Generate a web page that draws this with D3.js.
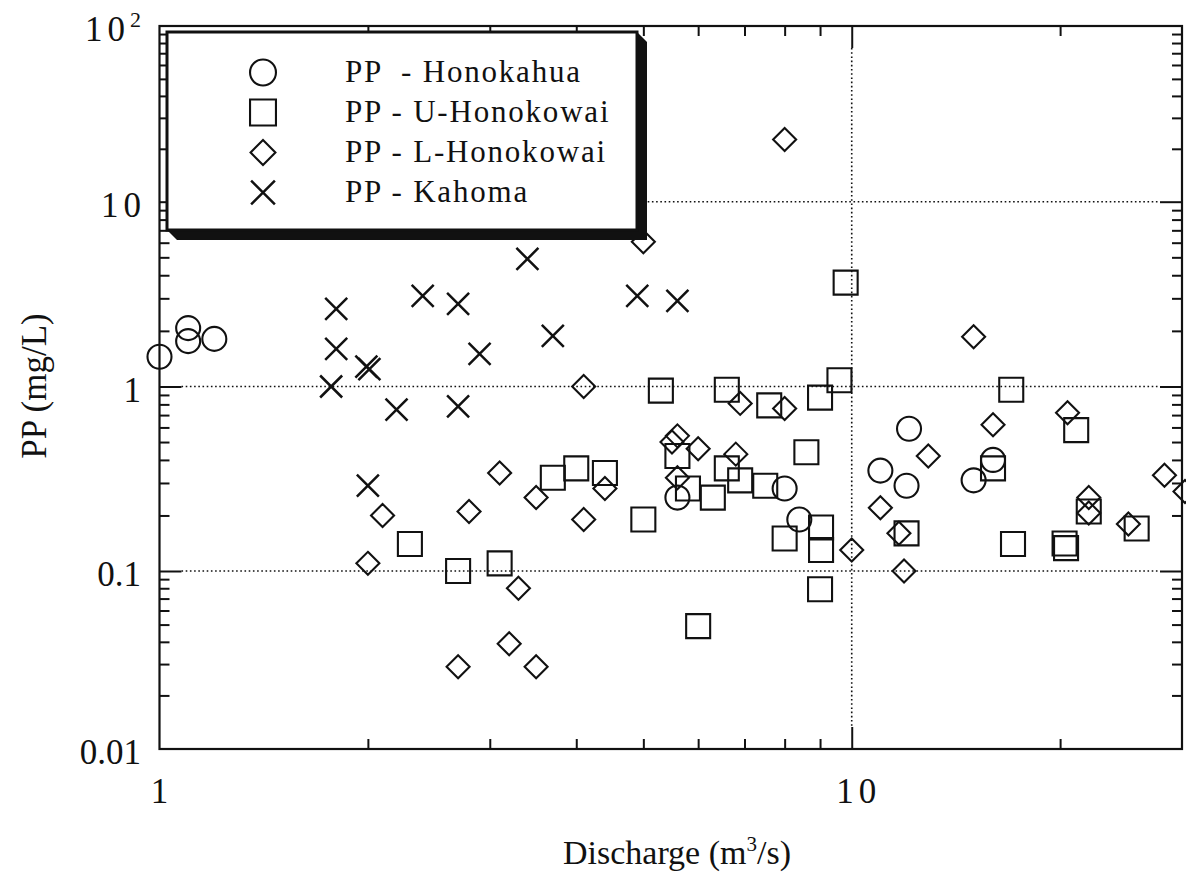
<!DOCTYPE html>
<html>
<head>
<meta charset="utf-8">
<script src="https://cdn.jsdelivr.net/npm/d3@7"></script>
<style>
  body { margin: 0; background: #fff; }
  svg text { font-family: "Liberation Serif", "Times New Roman", Times, serif; fill: #111; white-space: pre; }
</style>
</head>
<body>
<svg id="chart" width="1186" height="877"></svg>
<script>
// Particulate phosphorus (mg/L) against stream discharge (m3/s), one array per station: [discharge, PP]
const honokahua = [
  [1.0, 1.45], [1.10, 2.07], [1.10, 1.76], [1.20, 1.81], [5.6, 0.25], [8.0, 0.28],
  [8.4, 0.19], [11.0, 0.35], [12.0, 0.29], [12.1, 0.59], [15.0, 0.31], [16.0, 0.40]
];
const uHonokowai = [
  [2.3, 0.14], [2.7, 0.10], [3.1, 0.11], [3.7, 0.32], [4.0, 0.36], [4.4, 0.34],
  [5.0, 0.19], [5.3, 0.95], [5.6, 0.42], [5.8, 0.28], [6.0, 0.049], [6.3, 0.25],
  [6.6, 0.96], [6.6, 0.36], [6.9, 0.31], [7.5, 0.29], [7.6, 0.79], [8.0, 0.15],
  [8.6, 0.44], [9.0, 0.87], [9.03, 0.172], [9.03, 0.13], [9.0, 0.079], [9.6, 1.08],
  [9.8, 3.65], [12.0, 0.16], [16.0, 0.36], [17.0, 0.96], [17.1, 0.14], [20.3, 0.141],
  [20.4, 0.133], [21.1, 0.58], [22.0, 0.21], [25.8, 0.17]
];
const lHonokowai = [
  [2.1, 0.20], [2.0, 0.11], [2.8, 0.21], [3.1, 0.34], [3.5, 0.25], [3.3, 0.08],
  [3.2, 0.039], [2.7, 0.029], [3.5, 0.029], [5.0, 6.07], [4.1, 1.0], [4.1, 0.19],
  [4.4, 0.28], [6.9, 0.81], [8.0, 0.76], [5.6, 0.54], [5.5, 0.50], [6.0, 0.46],
  [6.8, 0.43], [5.6, 0.32], [10.0, 0.13], [8.0, 22.6], [15.0, 1.86], [16.0, 0.62],
  [12.9, 0.42], [20.5, 0.72], [11.0, 0.22], [11.7, 0.16], [11.9, 0.10], [28.3, 0.33],
  [30.3, 0.27], [22.0, 0.25], [22.0, 0.206], [25.1, 0.18]
];
const kahoma = [
  [3.4, 4.9], [1.8, 2.63], [2.4, 3.09], [2.7, 2.80], [1.8, 1.60], [1.99, 1.28],
  [2.01, 1.24], [2.9, 1.50], [1.77, 1.0], [2.2, 0.75], [2.7, 0.78], [2.0, 0.29],
  [4.9, 3.09], [5.6, 2.91], [3.7, 1.88]
];

const seriesNames = ["PP  - Honokahua", "PP - U-Honokowai", "PP - L-Honokowai", "PP - Kahoma"];
const seriesShapes = ["circle", "square", "diamond", "cross"];
const seriesData = [honokahua, uHonokowai, lHonokowai, kahoma];

// axis ticks
const xDomain = [1, 30];
const xMajor = [1, 10];
const xTickLabels = ["1", "10"];
const yDecades = [0.01, 0.1, 1, 10, 100];
const yTickLabels = ["0.01", "0.1", "1", "10", "10"];
const gridX = [10];
const gridY = [0.1, 1, 10];

// layout
const pLeft = 159.5, pRight = 1182, pTop = 26, pBottom = 749;
const yRange = [pBottom, 571, 386.5, 201.7, pTop];   // decade rows as printed on the original plot
const ink = "#111";

const svg = d3.select("#chart");
const x = d3.scaleLog().domain(xDomain).range([pLeft, pRight]);
const y = d3.scaleLog().domain(yDecades).range(yRange);

const minorX = [];
[1, 10].forEach(d => { for (let k = 2; k <= 9; k++) if (d * k < xDomain[1]) minorX.push(d * k); });
const minorY = [];
[0.01, 0.1, 1, 10].forEach(d => { for (let k = 2; k <= 9; k++) minorY.push(d * k); });
const majorYInner = [0.1, 1, 10];
const majorXInner = [10];

const minorLen = 10, majorLen = 22;

// dotted grid
const grid = svg.append("g").attr("stroke", ink).attr("stroke-width", 1.6).attr("stroke-dasharray", "1.6,2.6");
grid.selectAll("line.gy").data(gridY).join("line")
  .attr("x1", pLeft + majorLen).attr("x2", pRight - majorLen)
  .attr("y1", d => y(d)).attr("y2", d => y(d));
grid.selectAll("line.gx").data(gridX).join("line")
  .attr("y1", pTop + majorLen).attr("y2", pBottom - majorLen)
  .attr("x1", d => x(d)).attr("x2", d => x(d));

// inward ticks on all four sides
function tickGroup(axisFn, scale, values, size, transform) {
  const g = svg.append("g").attr("transform", transform)
    .call(axisFn(scale).tickValues(values).tickSize(-size).tickFormat(""));
  g.select(".domain").remove();
  g.selectAll("line").attr("stroke", ink).attr("stroke-width", 2);
}
tickGroup(d3.axisBottom, x, minorX, minorLen, `translate(0,${pBottom})`);
tickGroup(d3.axisBottom, x, majorXInner, majorLen, `translate(0,${pBottom})`);
tickGroup(d3.axisTop, x, minorX, minorLen, `translate(0,${pTop})`);
tickGroup(d3.axisTop, x, majorXInner, majorLen, `translate(0,${pTop})`);
tickGroup(d3.axisLeft, y, minorY, minorLen, `translate(${pLeft},0)`);
tickGroup(d3.axisLeft, y, majorYInner, majorLen, `translate(${pLeft},0)`);
tickGroup(d3.axisRight, y, minorY, minorLen, `translate(${pRight},0)`);
tickGroup(d3.axisRight, y, majorYInner, majorLen, `translate(${pRight},0)`);

// plot frame
svg.append("rect").attr("x", pLeft).attr("y", pTop)
  .attr("width", pRight - pLeft).attr("height", pBottom - pTop)
  .attr("fill", "none").attr("stroke", ink).attr("stroke-width", 2.2);

// marker shapes
function drawMarker(g, shape, cx, cy, k = 1) {
  const s = g.append("path").attr("fill", "none").attr("stroke", ink).attr("stroke-width", 2.1);
  if (shape === "circle") {
    const r = 12 * k, p = d3.path();
    p.moveTo(cx + r, cy); p.arc(cx, cy, r, 0, 2 * Math.PI);
    s.attr("d", p.toString());
  } else if (shape === "square") {
    const h = 12 * k;
    s.attr("d", `M${cx - h},${cy - h}H${cx + h}V${cy + h}H${cx - h}Z`);
  } else if (shape === "diamond") {
    const h = 11.5 * k;
    s.attr("d", `M${cx},${cy - h}L${cx + h},${cy}L${cx},${cy + h}L${cx - h},${cy}Z`);
  } else {
    const h = 11 * k;
    s.attr("d", `M${cx - h},${cy - h}L${cx + h},${cy + h}M${cx - h},${cy + h}L${cx + h},${cy - h}`)
      .attr("stroke-width", 2.5);
  }
}

const pts = svg.append("g");
seriesData.forEach((data, i) => {
  data.forEach(([q, pp]) => drawMarker(pts, seriesShapes[i], x(q), y(pp)));
});

// legend with drop shadow
const lg = { x0: 167, y0: 32, x1: 637, y1: 230, off: 10 };
svg.append("path").attr("fill", ink)
  .attr("d", `M${lg.x0},${lg.y1}L${lg.x0 + lg.off},${lg.y1 + lg.off}H${lg.x1 + lg.off}V${lg.y0 + lg.off}L${lg.x1},${lg.y0}Z`);
svg.append("rect").attr("x", lg.x0).attr("y", lg.y0)
  .attr("width", lg.x1 - lg.x0).attr("height", lg.y1 - lg.y0)
  .attr("fill", "#fff").attr("stroke", ink).attr("stroke-width", 3);
const leg = svg.append("g");
seriesNames.forEach((name, i) => {
  const cy = 72.5 + i * 40;
  drawMarker(leg, seriesShapes[i], 263, cy, 1.08);
  leg.append("text").attr("x", 345).attr("y", cy + 9)
    .attr("font-size", 31).attr("letter-spacing", "1.8px").text(name);
});

// tick labels
const labelFont = 35;
const yl = svg.append("g").attr("font-size", labelFont).attr("text-anchor", "end");
yDecades.forEach((v, i) => {
  const ls = v >= 10 ? 5 : 0;
  const t = yl.append("text").attr("x", 141 + (v === 100 ? 0 : ls)).attr("y", y(v) + 15)
    .attr("letter-spacing", ls + "px");
  t.text(yTickLabels[i]);
  if (v === 100) {
    t.append("tspan").attr("font-size", 22).attr("dy", -14).attr("letter-spacing", "0px").text("2");
  }
});
const xl = svg.append("g").attr("font-size", labelFont).attr("text-anchor", "middle");
xMajor.forEach((v, i) => {
  const ls = v >= 10 ? 5 : 0;
  xl.append("text").attr("x", x(v) + (v >= 10 ? 7 : 0)).attr("y", 803)
    .attr("letter-spacing", ls + "px").text(xTickLabels[i]);
});

// axis titles
const xt = svg.append("text").attr("x", 677).attr("y", 864).attr("font-size", 34).attr("text-anchor", "middle");
xt.append("tspan").text("Discharge (m");
xt.append("tspan").attr("font-size", 21).attr("dy", -13).text("3");
xt.append("tspan").attr("dy", 13).text("/s)");

svg.append("text").attr("transform", "translate(46,386) rotate(-90)")
  .attr("font-size", 35).attr("text-anchor", "middle").text("PP (mg/L)");
</script>
</body>
</html>
